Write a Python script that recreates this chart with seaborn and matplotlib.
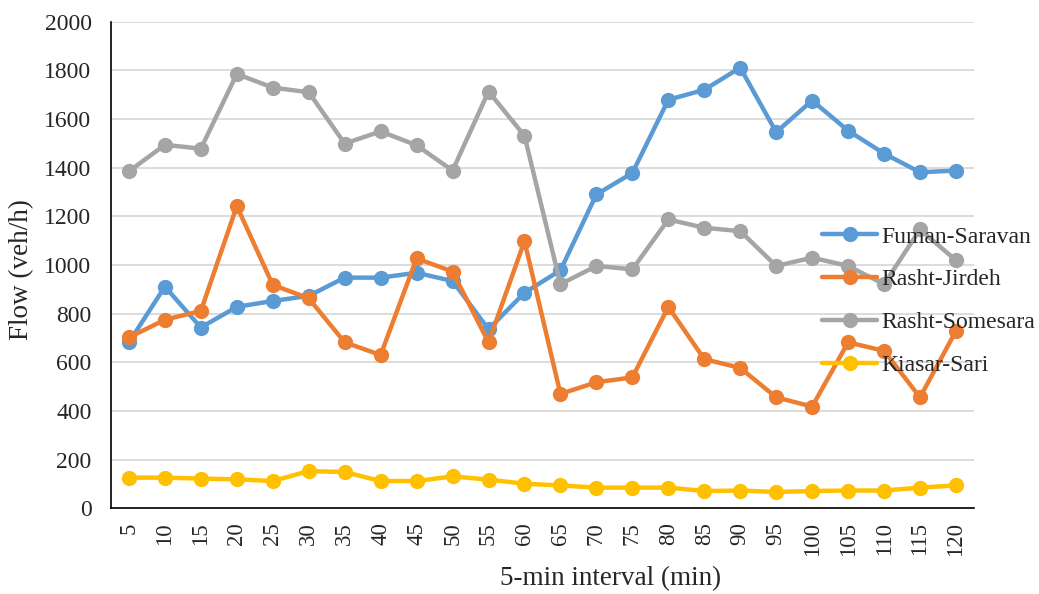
import matplotlib
matplotlib.use('Agg')
import pandas as pd
import matplotlib.pyplot as plt
import seaborn as sns

# Datos
intervals = [5, 10, 15, 20, 25, 30, 35, 40, 45, 50, 55, 60,
             65, 70, 75, 80, 85, 90, 95, 100, 105, 110, 115, 120]
fuman_saravan = [682, 911, 743, 828, 852, 873, 948, 948, 968, 934, 736, 886,
                 978, 1290, 1378, 1679, 1720, 1811, 1546, 1676, 1552, 1458, 1381, 1388]
rasht_jirdeh = [702, 775, 811, 1242, 918, 863, 682, 630, 1027, 973, 682, 1098,
                470, 518, 538, 828, 613, 577, 456, 418, 682, 647, 456, 729]
rasht_somesara = [1385, 1494, 1478, 1785, 1729, 1710, 1499, 1549, 1492, 1388, 1713, 1531,
                  921, 996, 982, 1187, 1153, 1139, 996, 1030, 996, 921, 1146, 1019]
kiasar_sari = [126, 126, 122, 119, 112, 153, 149, 112, 112, 131, 118, 101,
               94, 85, 85, 85, 71, 73, 67, 71, 73, 73, 85, 94]

series_names = ['Fuman-Saravan', 'Rasht-Jirdeh', 'Rasht-Somesara', 'Kiasar-Sari']
colors = ['#5B9BD5', '#ED7D31', '#A5A5A5', '#FFC000']

df = pd.DataFrame({'interval': intervals,
                   'Fuman-Saravan': fuman_saravan,
                   'Rasht-Jirdeh': rasht_jirdeh,
                   'Rasht-Somesara': rasht_somesara,
                   'Kiasar-Sari': kiasar_sari})
long_df = df.melt(id_vars='interval', var_name='route', value_name='flow')

sns.set_style('white')
plt.rcParams['font.family'] = ['Liberation Serif', 'DejaVu Serif']

fig, ax = plt.subplots(figsize=(10.39, 5.94), dpi=100)
fig.subplots_adjust(left=0.1068, right=0.9374, top=0.9635, bottom=0.1443)

sns.lineplot(data=long_df, x='interval', y='flow', hue='route', hue_order=series_names,
             palette=colors, marker='o', markersize=11, markeredgewidth=0,
             linewidth=3.2, ax=ax)

ax.set_xlim(2.5, 122.5)
ax.set_ylim(0, 2000)
ax.set_xticks(intervals)
ax.set_xticklabels([str(v) for v in intervals], rotation=90, fontsize=16.5)
ax.set_yticks(range(0, 2001, 200))
ax.tick_params(axis='y', labelsize=17, length=0, pad=14)
ax.tick_params(axis='x', length=0, pad=10)
ax.yaxis.grid(True, color='#D9D9D9', linewidth=1.3)
ax.set_axisbelow(True)
for s in ['top', 'right']:
    ax.spines[s].set_visible(False)
for s in ['left', 'bottom']:
    ax.spines[s].set_color('black')
    ax.spines[s].set_linewidth(1.2)

ax.set_xlabel('5-min interval (min)', fontsize=19.5)
ax.xaxis.set_label_coords(0.579, -0.118)
ax.set_ylabel('Flow (veh/h)', fontsize=19.5)
ax.yaxis.set_label_coords(-0.089, 0.49)

ax.legend(loc='center left', bbox_to_anchor=(822 / 1039, 1 - 301 / 594),
          bbox_transform=fig.transFigure, frameon=False, fontsize=17,
          handlelength=2.33, handletextpad=0.2, labelspacing=0.9,
          borderpad=0, borderaxespad=0)

plt.savefig('out.png', dpi=100)
plt.close()
